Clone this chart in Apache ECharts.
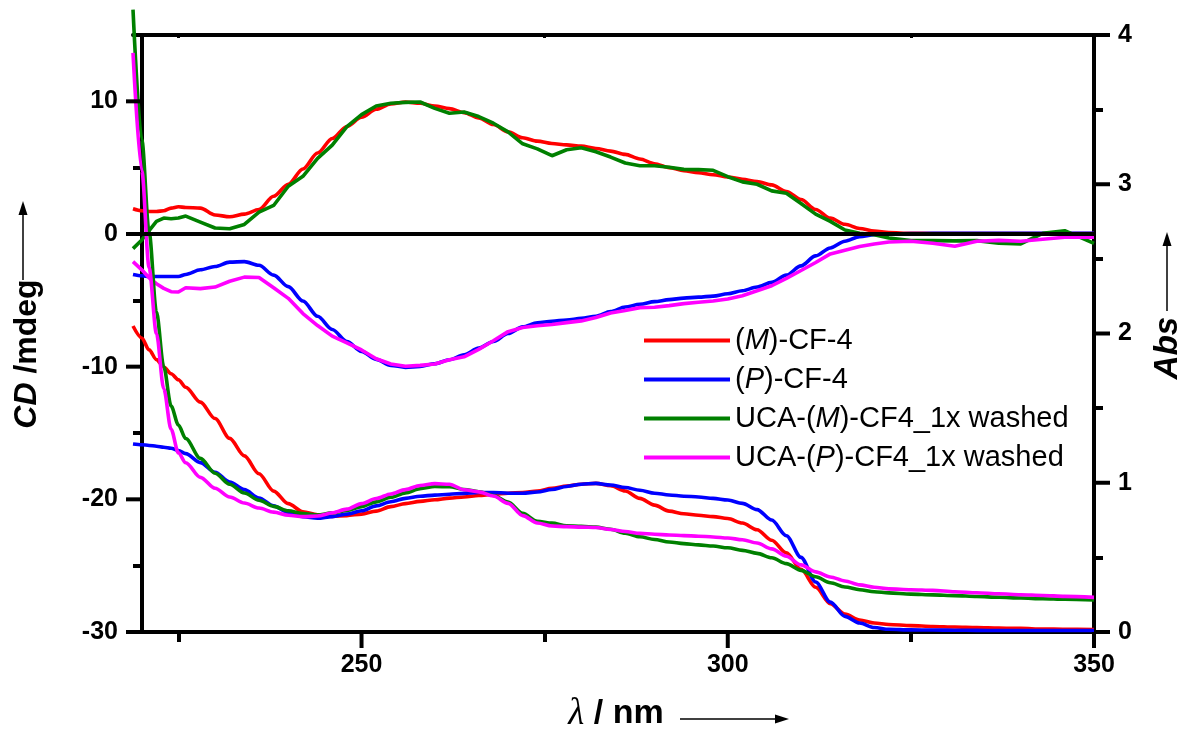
<!DOCTYPE html>
<html>
<head>
<meta charset="utf-8">
<title>CD and absorption spectra of CF-4</title>
<script src="https://cdn.jsdelivr.net/npm/echarts@6/dist/echarts.min.js"></script>
<style>
  html, body { margin: 0; padding: 0; background: #ffffff; }
  #chart { width: 1180px; height: 729px; }
</style>
</head>
<body>
<div id="chart"></div>
<script>
// Wavelength grid (nm) shared by all spectra
const wavelengths = [218.8, 220, 221, 222, 223, 224, 225, 226, 228, 230, 232, 234, 236, 238, 240, 242, 244, 246, 248, 250,
  252, 254, 256, 258, 260, 262, 264, 266, 268, 270, 272, 274, 276, 278, 280, 282, 284, 286, 288, 290,
  292, 294, 296, 298, 300, 302, 304, 306, 308, 310, 312, 314, 316, 318, 320, 322, 325, 328, 331, 334,
  337, 340, 343, 346, 350];

// CD signal (mdeg), left axis
const cdM = [1.9, 1.75, 1.7, 1.7, 1.75, 1.95, 2.05, 2.0, 1.95, 1.43, 1.3, 1.5, 1.85, 2.85, 3.75, 4.9, 6.1, 7.2, 8.1, 8.8,
  9.4, 9.8, 9.95, 9.85, 9.65, 9.45, 9.15, 8.75, 8.25, 7.7, 7.25, 7.0, 6.82, 6.72, 6.62, 6.45, 6.25, 6.0, 5.65, 5.3,
  5.0, 4.78, 4.62, 4.47, 4.3, 4.13, 3.95, 3.7, 3.2, 2.6, 1.85, 1.2, 0.73, 0.42, 0.22, 0.1, 0.05, 0.04, 0.03, 0.03,
  0.03, 0.03, 0.03, 0.03, 0.03];
const cdP = [-3.05, -3.15, -3.2, -3.2, -3.2, -3.2, -3.2, -3.05, -2.7, -2.45, -2.12, -2.08, -2.36, -3.1, -3.97, -5.05, -6.2, -7.2, -8.1, -8.85,
  -9.45, -9.9, -10.05, -9.98, -9.78, -9.48, -9.1, -8.6, -8.1, -7.5, -7.0, -6.7, -6.58, -6.48, -6.36, -6.2, -5.85, -5.5, -5.3, -5.1,
  -4.95, -4.83, -4.76, -4.68, -4.5, -4.28, -4.0, -3.65, -3.1, -2.4, -1.65, -1.05, -0.55, -0.2, -0.05, 0.0, 0.03, 0.05, 0.05, 0.05,
  0.05, 0.05, 0.05, 0.05, 0.05];
const cdUcaM = [-1.1, -0.45, 0.25, 0.95, 1.2, 1.15, 1.2, 1.35, 0.9, 0.45, 0.4, 0.72, 1.65, 2.15, 3.6, 4.35, 5.7, 6.7, 8.1, 9.0,
  9.65, 9.85, 9.92, 9.95, 9.47, 9.1, 9.2, 8.85, 8.35, 7.7, 6.8, 6.42, 5.9, 6.35, 6.5, 6.2, 5.8, 5.35, 5.15, 5.15,
  5.03, 4.87, 4.85, 4.8, 4.32, 3.93, 3.75, 3.25, 3.07, 2.3, 1.5, 0.95, 0.3, 0.05, -0.05, -0.3, -0.5, -0.5, -0.52, -0.5,
  -0.7, -0.75, 0.05, 0.25, -0.7];
const cdUcaP = [-2.08, -2.7, -3.3, -3.75, -4.1, -4.35, -4.37, -4.05, -4.12, -4.0, -3.56, -3.25, -3.28, -4.05, -4.85, -6.0, -6.9, -7.7, -8.2, -8.74,
  -9.4, -9.8, -9.97, -9.9, -9.8, -9.48, -9.26, -8.7, -8.05, -7.36, -7.05, -6.92, -6.82, -6.68, -6.55, -6.3, -5.95, -5.76, -5.55, -5.52,
  -5.4, -5.25, -5.15, -5.05, -4.9, -4.65, -4.28, -3.9, -3.35, -2.75, -2.15, -1.5, -1.22, -0.95, -0.75, -0.6, -0.55, -0.7, -0.92, -0.55,
  -0.48, -0.55, -0.4, -0.25, -0.25];

// Absorbance, right axis
const absM = [2.05, 1.97, 1.89, 1.825, 1.775, 1.73, 1.69, 1.64, 1.54, 1.43, 1.297, 1.18, 1.06, 0.944, 0.86, 0.805, 0.785, 0.775, 0.78, 0.79,
  0.81, 0.84, 0.86, 0.875, 0.886, 0.897, 0.905, 0.915, 0.923, 0.93, 0.935, 0.945, 0.962, 0.978, 0.99, 0.996, 0.98, 0.945, 0.895, 0.85,
  0.81, 0.792, 0.782, 0.773, 0.76, 0.73, 0.685, 0.615, 0.53, 0.42, 0.3, 0.19, 0.12, 0.08, 0.06, 0.05, 0.043, 0.037, 0.033, 0.03,
  0.027, 0.024, 0.02, 0.018, 0.016];
const absP = [1.26, 1.255, 1.25, 1.245, 1.238, 1.231, 1.215, 1.195, 1.135, 1.07, 1.005, 0.954, 0.898, 0.845, 0.8, 0.772, 0.762, 0.773, 0.79, 0.812,
  0.845, 0.873, 0.895, 0.91, 0.917, 0.923, 0.929, 0.935, 0.935, 0.93, 0.93, 0.938, 0.955, 0.975, 0.99, 0.996, 0.985, 0.968, 0.95, 0.93,
  0.918, 0.91, 0.905, 0.895, 0.884, 0.862, 0.82, 0.75, 0.645, 0.5, 0.335, 0.2, 0.105, 0.06, 0.03, 0.018, 0.014, 0.013, 0.012, 0.011,
  0.01, 0.01, 0.01, 0.01, 0.01];
const absUcaM = [4.17, 3.3, 2.68, 2.145, 1.777, 1.514, 1.387, 1.296, 1.163, 1.064, 0.99, 0.931, 0.883, 0.842, 0.812, 0.793, 0.784, 0.798, 0.815, 0.84,
  0.872, 0.903, 0.932, 0.96, 0.975, 0.973, 0.955, 0.94, 0.915, 0.87, 0.795, 0.742, 0.73, 0.712, 0.708, 0.703, 0.688, 0.662, 0.638, 0.62,
  0.603, 0.592, 0.584, 0.576, 0.564, 0.547, 0.527, 0.497, 0.458, 0.413, 0.37, 0.33, 0.302, 0.283, 0.27, 0.262, 0.254, 0.249, 0.244, 0.238,
  0.233, 0.228, 0.223, 0.219, 0.215];
const absUcaP = [3.88, 3.09, 2.44, 2.0, 1.63, 1.358, 1.2, 1.134, 1.036, 0.963, 0.905, 0.864, 0.831, 0.803, 0.782, 0.773, 0.777, 0.798, 0.823, 0.86,
  0.894, 0.925, 0.954, 0.982, 0.994, 0.99, 0.953, 0.939, 0.911, 0.862, 0.78, 0.73, 0.71, 0.706, 0.703, 0.7, 0.687, 0.673, 0.661, 0.655,
  0.65, 0.646, 0.642, 0.637, 0.63, 0.618, 0.596, 0.557, 0.508, 0.45, 0.403, 0.369, 0.342, 0.316, 0.3, 0.289, 0.283, 0.279, 0.27, 0.263,
  0.256, 0.25, 0.245, 0.239, 0.232];

// Sample names and colours
const names = ['(M)-CF-4', '(P)-CF-4', 'UCA-(M)-CF4_1x washed', 'UCA-(P)-CF4_1x washed'];
const colors = ['#ff0000', '#0000ff', '#008000', '#ff00ff'];

// Tick positions
const cdTicks = [-30, -20, -10, 0, 10];
const cdMinorTicks = [-25, -15, -5, 5, 15];
const absTicks = [0, 1, 2, 3, 4];
const absMinorTicks = [0.5, 1.5, 2.5, 3.5];
const xTicks = [250, 300, 350];
const xMinorTicks = [225, 275, 325];

const FONT = '"Liberation Sans", Arial, Helvetica, sans-serif';
const BLACK = '#000000';
const MAJOR_TICK = 16;
// the left CD axis sits at 220 nm, a little inside the plotted wavelength range
const LEFT_AXIS_SHIFT = -9;

function pairs(values) {
  return wavelengths.map((w, i) => [w, values[i]]);
}

function curve(idx, values, yAxisIndex, smooth) {
  const s = {
    type: 'line',
    name: names[idx],
    data: pairs(values),
    xAxisIndex: 0,
    yAxisIndex: yAxisIndex,
    symbol: 'none',
    showSymbol: false,
    clip: false,
    smooth: smooth,
    lineStyle: { color: colors[idx], width: 3.6 },
    itemStyle: { color: colors[idx] },
    emphasis: { disabled: true },
    silent: true
  };
  if (smooth) s.smoothMonotone = 'x';
  return s;
}

const labelStyle = { fontSize: 25, fontWeight: 'bold', color: BLACK, fontFamily: FONT };

// axis carrying the line and the numbers
function labelledAxis(base, labels, margin) {
  return Object.assign({}, base, {
    axisLine: { show: true, onZero: false, lineStyle: { color: BLACK, width: 4 } },
    axisTick: { show: false },
    axisLabel: Object.assign({ show: true, customValues: labels.slice(), margin: margin }, labelStyle),
    splitLine: { show: false }
  });
}

// overlay axis that only draws the short intermediate ticks
function tickAxis(base, ticks, len) {
  return Object.assign({}, base, {
    axisLine: { show: false, onZero: false },
    axisTick: { show: true, inside: false, length: len, customValues: ticks.slice(), lineStyle: { color: BLACK, width: 4 } },
    axisLabel: { show: false },
    splitLine: { show: false }
  });
}

const xBase = { type: 'value', min: 218.8, max: 350, gridIndex: 0, position: 'bottom' };
const cdBase = { type: 'value', min: -30, max: 15, position: 'left', offset: LEFT_AXIS_SHIFT };
const absBase = { type: 'value', min: 0, max: 4, position: 'right', offset: 0 };

// Long ticks at the labelled values, drawn as short strokes anchored through the axis scales
// dir: [dx, dy] direction of the stroke; shift: horizontal offset of the anchor axis line
function majorTicks(points, yAxisIndex, dir, shift) {
  return {
    type: 'custom',
    coordinateSystem: 'cartesian2d',
    xAxisIndex: 0,
    yAxisIndex: yAxisIndex,
    clip: false,
    silent: true,
    animation: false,
    z: 4,
    encode: { x: 0, y: 1 },
    data: points,
    renderItem: function (params, api) {
      const p = api.coord([api.value(0), api.value(1)]);
      const x0 = p[0] + shift;
      return {
        type: 'line',
        shape: { x1: x0, y1: p[1], x2: x0 + dir[0] * MAJOR_TICK, y2: p[1] + dir[1] * MAJOR_TICK },
        style: { stroke: BLACK, lineWidth: 4 }
      };
    }
  };
}

const cdSeries = [
  curve(0, cdM, 0, 0.3),
  curve(1, cdP, 0, 0.3),
  curve(2, cdUcaM, 0, false),
  curve(3, cdUcaP, 0, false)
];
// zero reference line of the CD scale
cdSeries[3].markLine = {
  silent: true,
  symbol: 'none',
  animation: false,
  label: { show: false },
  lineStyle: { color: BLACK, width: 4, type: 'solid' },
  data: [{ yAxis: 0 }]
};

const absSeries = [
  curve(0, absM, 1, 0.3),
  curve(1, absP, 1, 0.3),
  curve(2, absUcaM, 1, 0.3),
  curve(3, absUcaP, 1, 0.3)
];

const tickSeries = [
  majorTicks(xTicks.map(v => [v, cdBase.min]), 0, [0, 1], 0),
  majorTicks(cdTicks.map(v => [xBase.min, v]), 0, [-1, 0], -LEFT_AXIS_SHIFT),
  majorTicks(absTicks.map(v => [xBase.max, v]), 1, [1, 0], 0)
];

const titles = [
  // left axis title with upward arrow
  {
    type: 'text', x: 27, y: 354, rotation: Math.PI / 2, silent: true,
    style: {
      text: '{i|CD} /mdeg', fill: BLACK, fontSize: 32, fontWeight: 'bold', fontFamily: FONT,
      align: 'center', verticalAlign: 'middle', textAlign: 'center', textVerticalAlign: 'middle',
      rich: { i: { fontSize: 32, fontWeight: 'bold', fontStyle: 'italic', fontFamily: FONT, fill: BLACK } }
    }
  },
  { type: 'line', silent: true, shape: { x1: 23, y1: 280, x2: 23, y2: 212 }, style: { stroke: BLACK, lineWidth: 1.5 } },
  { type: 'polygon', silent: true, shape: { points: [[23, 201], [18.5, 215], [27.5, 215]] }, style: { fill: BLACK } },
  // right axis title with upward arrow
  {
    type: 'text', x: 1168, y: 348, rotation: Math.PI / 2, silent: true,
    style: {
      text: 'Abs', fill: BLACK, fontSize: 33, fontWeight: 'bold', fontStyle: 'italic', fontFamily: FONT,
      align: 'center', verticalAlign: 'middle', textAlign: 'center', textVerticalAlign: 'middle'
    }
  },
  { type: 'line', silent: true, shape: { x1: 1167, y1: 311, x2: 1167, y2: 244 }, style: { stroke: BLACK, lineWidth: 1.5 } },
  { type: 'polygon', silent: true, shape: { points: [[1167, 232], [1162.5, 246], [1171.5, 246]] }, style: { fill: BLACK } },
  // x axis title with rightward arrow
  {
    type: 'text', x: 616, y: 714, silent: true,
    style: {
      text: '{l|λ} / nm', fill: BLACK, fontSize: 34, fontWeight: 'bold', fontFamily: FONT,
      align: 'center', verticalAlign: 'middle', textAlign: 'center', textVerticalAlign: 'middle',
      rich: { l: { fontSize: 37, fontStyle: 'italic', fontWeight: 'normal', fontFamily: '"Liberation Serif", "DejaVu Serif", serif', fill: BLACK } }
    }
  },
  { type: 'line', silent: true, shape: { x1: 680, y1: 719, x2: 776, y2: 719 }, style: { stroke: BLACK, lineWidth: 1.5 } },
  { type: 'polygon', silent: true, shape: { points: [[789, 719], [775, 714.5], [775, 723.5]] }, style: { fill: BLACK } }
];

const option = {
  backgroundColor: '#ffffff',
  animation: false,
  grid: { left: 133, right: 86, top: 35, bottom: 97, containLabel: false, outerBoundsMode: 'none' },
  xAxis: [
    labelledAxis(xBase, xTicks, 21),
    tickAxis(xBase, xMinorTicks, 10),
    Object.assign({}, xBase, {
      position: 'top',
      axisLine: { show: true, onZero: false, lineStyle: { color: BLACK, width: 4 } },
      axisTick: { show: true, inside: true, length: 3, customValues: xMinorTicks.slice(), lineStyle: { color: BLACK, width: 3 } },
      axisLabel: { show: false },
      splitLine: { show: false }
    })
  ],
  yAxis: [
    labelledAxis(cdBase, cdTicks, 24),
    labelledAxis(absBase, absTicks, 24),
    tickAxis(cdBase, cdMinorTicks, 9),
    tickAxis(absBase, absMinorTicks, 9)
  ],
  legend: {
    data: names,
    orient: 'vertical',
    left: 639,
    top: 321,
    icon: 'rect',
    itemWidth: 86,
    itemHeight: 4,
    itemGap: 10,
    selectedMode: false,
    formatter: n => n.replace(/\((M|P)\)/, '({i|$1})'),
    textStyle: {
      fontSize: 29, fontFamily: FONT, color: BLACK,
      rich: { i: { fontSize: 29, fontFamily: FONT, color: BLACK, fontStyle: 'italic' } }
    }
  },
  graphic: titles,
  series: cdSeries.concat(absSeries, tickSeries)
};

const chart = echarts.init(document.getElementById('chart'), null, { renderer: 'canvas' });
chart.setOption(option);
</script>
</body>
</html>
